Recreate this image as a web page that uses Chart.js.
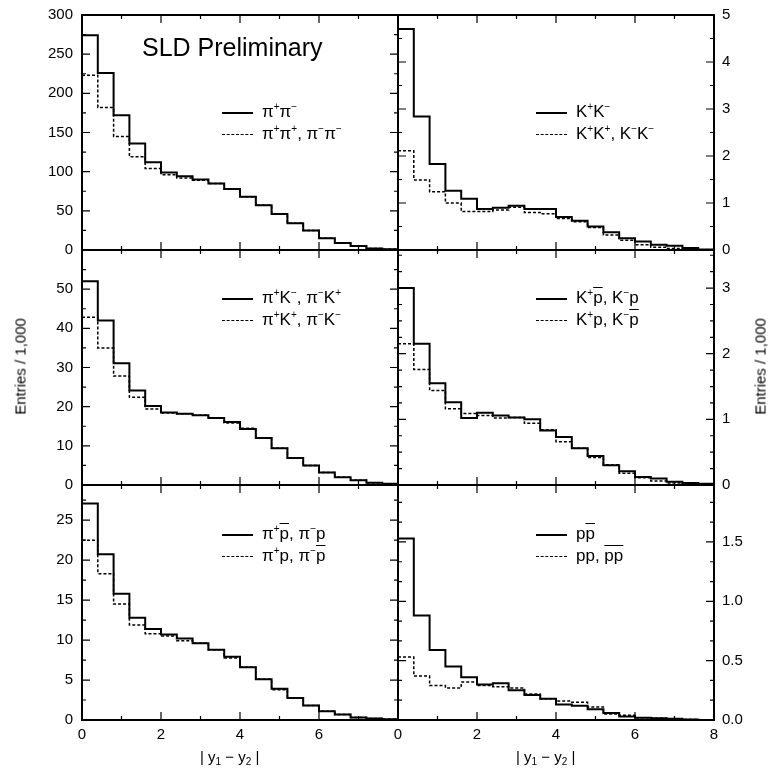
<!DOCTYPE html>
<html>
<head>
<meta charset="utf-8">
<script src="https://cdn.jsdelivr.net/npm/chart.js@4.4.1/dist/chart.umd.min.js"></script>
<style>
  body { margin: 0; background: #fff; font-family: "Liberation Sans", Arial, sans-serif; }
  #wrap { position: relative; width: 772px; height: 775px; }
  canvas { position: absolute; left: 0; top: 0; pointer-events: none; }
  .txt { position: absolute; color: #000; white-space: nowrap; }
  .leg { position: absolute; font-size: 17px; line-height: 22px; }
  .leg .row { position: relative; padding-left: 40px; height: 22px; }
  .leg .row::before { content: ""; position: absolute; left: 0; top: 11px; width: 31px; border-top: 2px solid #000; }
  .leg .row.d::before { border-top: 1.5px dashed #000; }
  sup { font-size: 10px; vertical-align: 7px; line-height: 0; }
  sub { font-size: 10px; vertical-align: -3px; line-height: 0; }
  .ob { text-decoration: overline; }
</style>
</head>
<body>
<div id="wrap"></div>
<script>
// bin width 0.4 in |y1 - y2|, 20 bins from 0 to 8
const binWidth = 0.4;

const pipiOpp  = [274, 226, 172, 136, 112, 99, 94, 90, 85, 78, 68, 57, 46, 34, 25, 15, 9, 5, 2, 1];
const pipiSame = [223, 182, 145, 119, 104, 96, 92, 89, 85, 78, 68, 57, 46, 34, 25, 15, 9, 5, 2, 1];

const kkOpp  = [4.70, 2.84, 1.83, 1.26, 1.09, 0.87, 0.90, 0.94, 0.87, 0.87, 0.70, 0.62, 0.50, 0.38, 0.25, 0.18, 0.11, 0.09, 0.04, 0.01];
const kkSame = [2.11, 1.49, 1.24, 1.00, 0.82, 0.82, 0.85, 0.91, 0.80, 0.77, 0.67, 0.60, 0.48, 0.32, 0.21, 0.11, 0.06, 0.03, 0.01, 0.0];

const piKOpp  = [52, 42, 31.1, 24.1, 20.2, 18.5, 18.2, 17.8, 17.1, 16.1, 14.3, 12, 9.4, 6.9, 5, 3.2, 2, 1.2, 0.6, 0.3];
const piKSame = [42.8, 35, 27.8, 22.4, 19.4, 18.4, 18.2, 17.8, 17.1, 15.8, 14.5, 12, 9.4, 6.9, 5, 3.2, 2, 1.2, 0.6, 0.3];

const kpOpp  = [3.0, 2.15, 1.55, 1.26, 1.02, 1.10, 1.06, 1.03, 1.0, 0.83, 0.73, 0.56, 0.44, 0.30, 0.21, 0.12, 0.10, 0.05, 0.03, 0.02];
const kpSame = [2.15, 1.76, 1.44, 1.16, 1.09, 1.06, 1.02, 1.03, 0.94, 0.84, 0.66, 0.56, 0.42, 0.31, 0.18, 0.11, 0.06, 0.03, 0.02, 0.01];

const pipOpp  = [27.1, 20.75, 15.8, 12.8, 11.4, 10.7, 10.2, 9.6, 8.8, 7.9, 6.6, 5.1, 3.9, 2.75, 1.8, 1.1, 0.7, 0.3, 0.2, 0.1];
const pipSame = [22.5, 18.3, 14.5, 11.9, 10.8, 10.5, 9.9, 9.6, 8.8, 7.75, 6.6, 5.1, 3.8, 2.75, 1.8, 1.1, 0.7, 0.3, 0.2, 0.1];

const ppOpp  = [1.53, 0.88, 0.59, 0.45, 0.36, 0.30, 0.31, 0.25, 0.21, 0.18, 0.13, 0.12, 0.09, 0.06, 0.03, 0.02, 0.015, 0.01, 0.005, 0.0];
const ppSame = [0.53, 0.37, 0.29, 0.27, 0.32, 0.29, 0.28, 0.27, 0.22, 0.18, 0.16, 0.15, 0.11, 0.05, 0.04, 0.02, 0.015, 0.01, 0.005, 0.0];

const xTicksLeft  = [0, 2, 4, 6];
const xTicksRight = [0, 2, 4, 6, 8];

const panels = [
  { col: 0, row: 0, solid: pipiOpp, dashed: pipiSame, max: 300, ticks: [0, 50, 100, 150, 200, 250, 300], minor: 25, dec: 0 },
  { col: 1, row: 0, solid: kkOpp, dashed: kkSame, max: 5, ticks: [0, 1, 2, 3, 4, 5], minor: 0.5, dec: 0 },
  { col: 0, row: 1, solid: piKOpp, dashed: piKSame, max: 60, ticks: [0, 10, 20, 30, 40, 50], minor: 5, dec: 0 },
  { col: 1, row: 1, solid: kpOpp, dashed: kpSame, max: 3.58, ticks: [0, 1, 2, 3], minor: 0.25, dec: 0 },
  { col: 0, row: 2, solid: pipOpp, dashed: pipSame, max: 29.4, ticks: [0, 5, 10, 15, 20, 25], minor: 2.5, dec: 0 },
  { col: 1, row: 2, solid: ppOpp, dashed: ppSame, max: 1.98, ticks: [0, 0.5, 1.0, 1.5], minor: 0.5 / 3, dec: 1 }
];

const colX = [82, 398, 714];
const rowY = [15, 250, 485, 720];

function toSteps(values) {
  // point at the left edge of each bin; stepped 'before' holds it to the next edge
  const pts = values.map((v, i) => ({ x: i * binWidth, y: v }));
  pts.push({ x: values.length * binWidth, y: values[values.length - 1] });
  return pts;
}

// frame, inward ticks and tick labels
const framePlugin = {
  id: 'frame',
  afterDraw(chart, args, o) {
    const { ctx, chartArea: a } = chart;
    const xs = chart.scales.x, ys = chart.scales.y;
    ctx.save();
    ctx.strokeStyle = '#000';
    ctx.lineWidth = 2;
    ctx.strokeRect(a.left, a.top, a.right - a.left, a.bottom - a.top);
    ctx.lineWidth = 1.2;
    ctx.beginPath();
    for (let v = 0; v <= o.max + 1e-6; v += o.minor) {
      const y = ys.getPixelForValue(v);
      const major = o.ticks.some(t => Math.abs(t - v) < 1e-6);
      const len = major ? 8 : 4;
      ctx.moveTo(a.left, y); ctx.lineTo(a.left + len, y);
      ctx.moveTo(a.right, y); ctx.lineTo(a.right - len, y);
    }
    for (let v = 0; v <= 8; v += 1) {
      const x = xs.getPixelForValue(v);
      const len = v % 2 === 0 ? 8 : 4;
      ctx.moveTo(x, a.bottom); ctx.lineTo(x, a.bottom - len);
      ctx.moveTo(x, a.top); ctx.lineTo(x, a.top + len);
    }
    ctx.stroke();
    ctx.fillStyle = '#000';
    ctx.font = '15px "Liberation Sans", Arial, sans-serif';
    ctx.textBaseline = 'middle';
    o.ticks.forEach(t => {
      const y = ys.getPixelForValue(t);
      if (o.col === 0) { ctx.textAlign = 'right'; ctx.fillText(t.toFixed(o.dec), a.left - 9, y); }
      else { ctx.textAlign = 'left'; ctx.fillText(t.toFixed(o.dec), a.right + 8, y); }
    });
    if (o.row === 2) {
      ctx.textAlign = 'center';
      ctx.textBaseline = 'top';
      (o.col === 0 ? xTicksLeft : xTicksRight).forEach(t => {
        ctx.fillText(String(t), xs.getPixelForValue(t), a.bottom + 7);
      });
    }
    ctx.restore();
  }
};

const wrap = document.getElementById('wrap');
panels.forEach(p => {
  const cv = document.createElement('canvas');
  cv.style.width = '772px'; cv.style.height = '775px';
  wrap.appendChild(cv);
  new Chart(cv, {
    type: 'line',
    data: {
      datasets: [
        { data: toSteps(p.dashed), stepped: 'before', borderColor: '#000', borderWidth: 1.5, borderDash: [3, 2], pointRadius: 0, fill: false },
        { data: toSteps(p.solid), stepped: 'before', borderColor: '#000', borderWidth: 2, pointRadius: 0, fill: false }
      ]
    },
    options: {
      responsive: false,
      animation: false,
      layout: { padding: { left: colX[p.col], right: 772 - colX[p.col + 1], top: rowY[p.row], bottom: 775 - rowY[p.row + 1] } },
      plugins: { legend: { display: false }, tooltip: { enabled: false }, frame: p },
      scales: {
        x: { type: 'linear', min: 0, max: 8, display: false },
        y: { type: 'linear', min: 0, max: p.max, display: false }
      }
    },
    plugins: [framePlugin]
  });
});

// text overlays
function addText(html, style, cls) {
  const d = document.createElement('div');
  d.className = cls || 'txt';
  d.innerHTML = html;
  Object.assign(d.style, style);
  wrap.appendChild(d);
}
addText('SLD Preliminary', { left: '142px', top: '33px', fontSize: '25px' });
const legends = [
  [222, 101, 'π<sup>+</sup>π<sup>−</sup>', 'π<sup>+</sup>π<sup>+</sup>, π<sup>−</sup>π<sup>−</sup>'],
  [536, 101, 'K<sup>+</sup>K<sup>−</sup>', 'K<sup>+</sup>K<sup>+</sup>, K<sup>−</sup>K<sup>−</sup>'],
  [222, 287, 'π<sup>+</sup>K<sup>−</sup>, π<sup>−</sup>K<sup>+</sup>', 'π<sup>+</sup>K<sup>+</sup>, π<sup>−</sup>K<sup>−</sup>'],
  [536, 287, 'K<sup>+</sup><span class="ob">p</span>, K<sup>−</sup>p', 'K<sup>+</sup>p, K<sup>−</sup><span class="ob">p</span>'],
  [222, 523, 'π<sup>+</sup><span class="ob">p</span>, π<sup>−</sup>p', 'π<sup>+</sup>p, π<sup>−</sup><span class="ob">p</span>'],
  [536, 523, 'p<span class="ob">p</span>', 'pp, <span class="ob">pp</span>']
];
legends.forEach(([x, y, a, b]) => {
  addText('<div class="row">' + a + '</div><div class="row d">' + b + '</div>', { left: x + 'px', top: y + 'px' }, 'leg');
});
addText('Entries / 1,000', { left: '-35px', top: '358px', fontSize: '15px', transform: 'rotate(-90deg)', width: '110px', textAlign: 'center' });
addText('Entries / 1,000', { left: '705px', top: '358px', fontSize: '15px', transform: 'rotate(-90deg)', width: '110px', textAlign: 'center' });
addText('| y<sub>1</sub> − y<sub>2</sub> |', { left: '200px', top: '748px', fontSize: '15px' });
addText('| y<sub>1</sub> − y<sub>2</sub> |', { left: '516px', top: '748px', fontSize: '15px' });
</script>
</body>
</html>
